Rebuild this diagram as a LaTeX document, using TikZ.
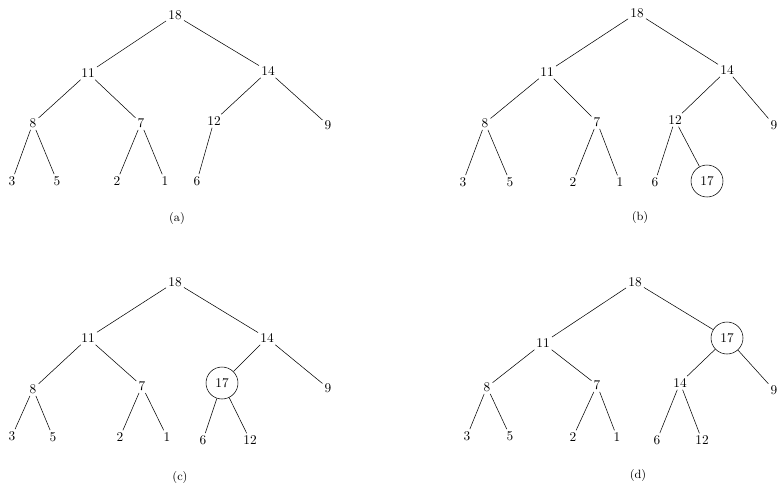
\documentclass[tikz,border=0pt]{standalone}
\usepackage{tikz}
\usetikzlibrary{positioning}

\begin{document}
\begin{tikzpicture}[
        x=0.75pt, y=-0.75pt,
        key/.style={
            inner sep=1.5pt,
            font=\normalsize
        },
        newkey/.style={
            key,
            draw,
            circle,
            line width=0.4pt,
            minimum size=24pt,
            inner sep=0pt
        },
        caption/.style={
            font=\small
        },
        edge/.style={
            line width=0.4pt
        }
    ]
        \useasboundingbox (0,0) rectangle (780,490);

        % (a) heap before insertion
        \node[key] (a1) at (175,15) {18};
        \node[key] (a2) at (88,73) {11};
        \node[key] (a3) at (268,71) {14};
        \node[key] (a4) at (33,123) {8};
        \node[key] (a5) at (141,123) {7};
        \node[key] (a6) at (214,121) {12};
        \node[key] (a7) at (328,125) {9};
        \node[key] (a8) at (12,181) {3};
        \node[key] (a9) at (57,181) {5};
        \node[key] (a10) at (117,181) {2};
        \node[key] (a11) at (165,181) {1};
        \node[key] (a12) at (197,181) {6};
        \node[caption] (la) at (177,218) {(a)};

        % (b) new key at the end
        \node[key] (b1) at (637,13) {18};
        \node[key] (b2) at (547,72) {11};
        \node[key] (b3) at (727,70) {14};
        \node[key] (b4) at (485,123) {8};
        \node[key] (b5) at (597,122) {7};
        \node[key] (b6) at (675,120) {12};
        \node[key] (b7) at (774,125) {9};
        \node[key] (b8) at (463,182) {3};
        \node[key] (b9) at (510,182) {5};
        \node[key] (b10) at (573,182) {2};
        \node[key] (b11) at (620,182) {1};
        \node[key] (b12) at (655,182) {6};
        \node[newkey] (b13) at (707,181) {17};
        \node[caption] (lb) at (640,217) {(b)};

        % (c) first swap
        \node[key] (c1) at (175,282) {18};
        \node[key] (c2) at (88,338) {11};
        \node[key] (c3) at (267,338) {14};
        \node[key] (c4) at (33,389) {8};
        \node[key] (c5) at (142,386) {7};
        \node[newkey] (c6) at (222,383) {17};
        \node[key] (c7) at (328,388) {9};
        \node[key] (c8) at (12,436) {3};
        \node[key] (c9) at (53,437) {5};
        \node[key] (c10) at (120,437) {2};
        \node[key] (c11) at (167,437) {1};
        \node[key] (c12) at (203,440) {6};
        \node[key] (c13) at (250,440) {12};
        \node[caption] (lc) at (180,477) {(c)};

        % (d) second swap
        \node[key] (d1) at (635,282) {18};
        \node[key] (d2) at (543,343) {11};
        \node[newkey] (d3) at (727,338) {17};
        \node[key] (d4) at (487,387) {8};
        \node[key] (d5) at (597,385) {7};
        \node[key] (d6) at (680,383) {14};
        \node[key] (d7) at (774,390) {9};
        \node[key] (d8) at (467,436) {3};
        \node[key] (d9) at (510,436) {5};
        \node[key] (d10) at (573,437) {2};
        \node[key] (d11) at (617,437) {1};
        \node[key] (d12) at (657,440) {6};
        \node[key] (d13) at (702,440) {12};
        \node[caption] (ld) at (638,475) {(d)};

        \foreach \t in {a,b,c,d}
            \foreach \u/\v in {1/2,1/3,2/4,2/5,3/6,3/7,4/8,4/9,5/10,5/11,6/12}
                \draw[edge] (\t\u) -- (\t\v);
        \foreach \t in {b,c,d}
            \draw[edge] (\t6) -- (\t13);
    \end{tikzpicture}
\end{document}
